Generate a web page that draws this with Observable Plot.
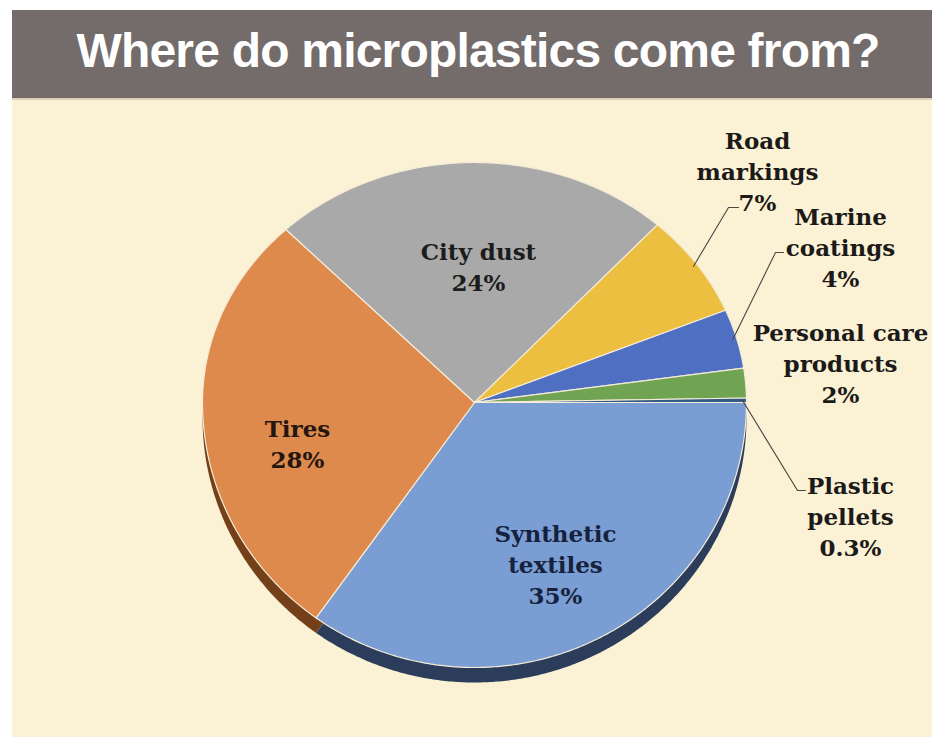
<!DOCTYPE html>
<html>
<head>
<meta charset="utf-8">
<script src="https://cdn.jsdelivr.net/npm/d3@7"></script>
<script src="https://cdn.jsdelivr.net/npm/@observablehq/plot@0.6"></script>
<style>
  html, body { margin: 0; padding: 0; background: #ffffff; }
  #frame { position: absolute; left: 12px; top: 10px; width: 920px; height: 727px; background: #fbf1d4; }
  #title { height: 88px; background: #736c6b; color: #ffffff; font-family: "Liberation Sans", Arial, sans-serif;
           font-weight: bold; font-size: 48px; line-height: 82px; letter-spacing: -0.8px; text-align: center;
           padding-left: 12px; box-sizing: border-box; }
  #sep { height: 2px; background: #ddd0b6; }
  #chart svg { display: block; background: transparent; }
</style>
</head>
<body>
<div id="frame">
  <div id="title">Where do microplastics come from?</div>
  <div id="sep"></div>
  <div id="chart"></div>
</div>
<script>
// ---- data ----
const names = ["Synthetic textiles", "Tires", "City dust", "Road markings", "Marine coatings", "Personal care products", "Plastic pellets"];
const shares = [35, 28, 24, 7, 4, 2, 0.3];
const labelTexts = ["Synthetic\ntextiles\n35%", "Tires\n28%", "City dust\n24%", "Road\nmarkings\n7%", "Marine\ncoatings\n4%", "Personal care\nproducts\n2%", "Plastic\npellets\n0.3%"];

// ---- styles ----
const faceColors = ["#7a9dd3", "#de8a4d", "#a9a9a9", "#ecbf40", "#4f6fc3", "#70a352", "#345a86"];
const sideColors = ["#2c3d5b", "#74401a", "#5e5e5e", "#8a6a1c", "#263a70", "#3c5e2a", "#1e3350"];
const labelColors = ["#16213d", "#231510", "#1c1c1c", "#1c1a18", "#1c1a18", "#1c1a18", "#1c1a18"];

// ---- layout (svg pixels) ----
const W = 920, H = 637;
const cx = 462, cy = 302, rx = 272, ryTop = 240, ryBottom = 265, depth = 15;
const labelAnchors = [[543, 462.6], [285, 341.6], [466, 164.6], [745, 69.6], [828, 145.6], [828, 261.6], [838, 414.6]];
const leaders = [[3, [716, 107], [726, 107]], [4, [763, 152], [771, 152]], [6, [785, 390], [793, 390]]];

// ellipse with a slightly deeper front half (perspective)
const px = t => cx + rx * Math.cos(t);
const py = t => { const s = Math.sin(t); return cy + s * (s < 0 ? ryTop : ryBottom); };

const rows = names.map((name, i) => ({name, share: shares[i], i}));
const arcs = d3.pie().value(d => d.share).sort(null).startAngle(0).endAngle(2 * Math.PI)(rows);

function slicePoints(a) {
  const n = Math.max(2, Math.ceil((a.endAngle - a.startAngle) / (Math.PI / 360)));
  const pts = [{x: cx, y: cy}];
  for (let k = 0; k <= n; k++) {
    const t = a.startAngle + (a.endAngle - a.startAngle) * k / n;
    pts.push({x: px(t), y: py(t)});
  }
  pts.push({x: cx, y: cy});
  return pts;
}

const sideMarks = arcs.map(a => Plot.line(slicePoints(a), {x: "x", y: "y", fill: sideColors[a.data.i], stroke: "none", dy: depth}));
const faceMarks = arcs.map(a => Plot.line(slicePoints(a), {x: "x", y: "y", fill: faceColors[a.data.i], stroke: "#f5ecd8", strokeWidth: 1.2, strokeLinejoin: "round"}));

const leaderMarks = leaders.map(([idx, elbow, end]) => {
  const a = arcs[idx];
  const m = (a.startAngle + a.endAngle) / 2;
  const r = 0.985;
  const pts = [
    {x: cx + r * (px(m) - cx), y: cy + r * (py(m) - cy)},
    {x: elbow[0], y: elbow[1]},
    {x: end[0], y: end[1]}
  ];
  return Plot.line(pts, {x: "x", y: "y", stroke: "#4a4644", strokeWidth: 1.1});
});

const labelRows = labelTexts.map((t, i) => ({text: t, x: labelAnchors[i][0], y: labelAnchors[i][1], color: labelColors[i]}));

const chart = Plot.plot({
  width: W,
  height: H,
  margin: 0,
  x: {domain: [0, W], range: [0, W], axis: null},
  y: {domain: [0, H], range: [0, H], axis: null},
  style: {background: "transparent", overflow: "visible"},
  marks: [
    ...sideMarks,
    ...faceMarks,
    ...leaderMarks,
    Plot.text(labelRows, {x: "x", y: "y", text: "text", fill: d => d.color, fontSize: 23, fontWeight: "bold",
      fontFamily: "DejaVu Serif", lineHeight: 1.35, textAnchor: "middle"})
  ]
});
document.getElementById("chart").appendChild(chart);
</script>
</body>
</html>
